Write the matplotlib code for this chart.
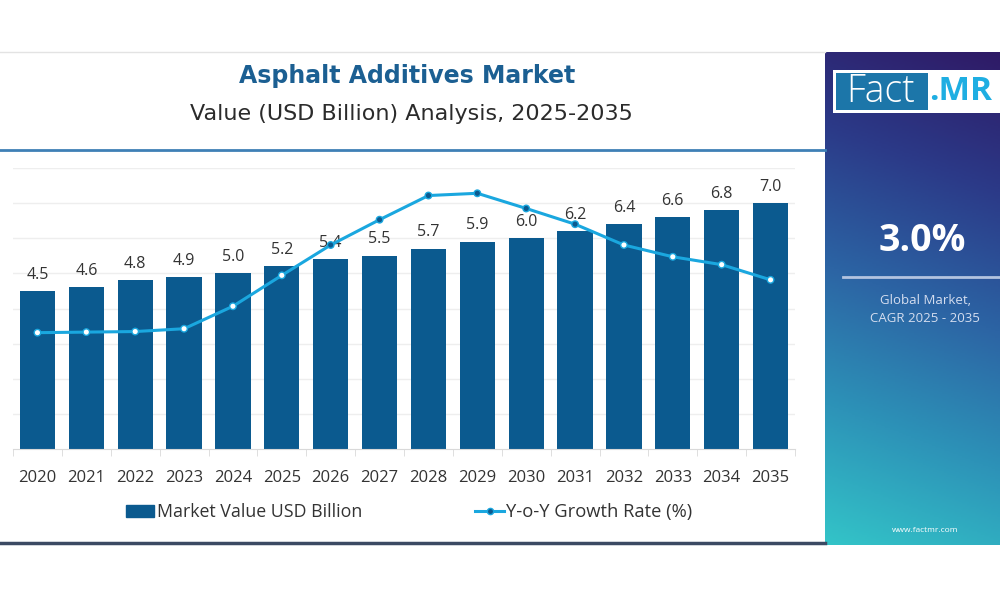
import numpy as np
import matplotlib
matplotlib.use("Agg")
import matplotlib.pyplot as plt
from matplotlib.lines import Line2D
from matplotlib.patches import Patch, Rectangle
from matplotlib.colors import LinearSegmentedColormap

# ---------------- data ----------------
years = ["2020", "2021", "2022", "2023", "2024", "2025", "2026", "2027",
         "2028", "2029", "2030", "2031", "2032", "2033", "2034", "2035"]
market_value = [4.5, 4.6, 4.8, 4.9, 5.0, 5.2, 5.4, 5.5,
                5.7, 5.9, 6.0, 6.2, 6.4, 6.6, 6.8, 7.0]
yoy_growth = [2.07, 2.08, 2.09, 2.14, 2.54, 3.09, 3.63, 4.08,
              4.51, 4.55, 4.28, 4.00, 3.63, 3.42, 3.28, 3.01]
title = "Asphalt Additives Market"
subtitle = "Value (USD Billion) Analysis, 2025-2035"
bar_label = "Market Value USD Billion"
line_label = "Y-o-Y Growth Rate (%)"
cagr_text = "3.0%"
cagr_caption = "Global Market,\nCAGR 2025 - 2035"
website = "www.factmr.com"

# ---------------- style ----------------
plt.rcParams['font.family'] = ['Open Sans', 'DejaVu Sans']
BAR_C = "#0b5a8f"
LINE_C = "#1aa7df"
TXT_C = "#333333"
W, H = 1000, 600

fig = plt.figure(figsize=(10, 6), dpi=100)
fig.patch.set_facecolor("white")

def fx(px):
    return px / W

def fy(py):
    return 1 - py / H

# ---------------- main chart ----------------
ax = fig.add_axes([fx(13), fy(449), fx(795) - fx(13), fy(168) - fy(449)])
x = np.arange(len(years))
ax.bar(x, market_value, width=0.72, color=BAR_C, zorder=2)
ax.set_xlim(-0.5, len(years) - 0.5)
ax.set_ylim(0, 8)
for xi, v in zip(x, market_value):
    ax.annotate(f"{v:.1f}", (xi, v), xytext=(0, 6), textcoords="offset points",
                ha="center", va="bottom", fontsize=11.5, color=TXT_C, zorder=3)

ax2 = ax.twinx()
ax2.set_ylim(0, 5)
ax2.axis("off")
ax2.plot(x, yoy_growth, color=LINE_C, linewidth=2.2, zorder=4)
face = ["white"] * 6 + [BAR_C] * 6 + ["white"] * 4
ax2.scatter(x, yoy_growth, s=22, facecolors=face, edgecolors=LINE_C,
            linewidths=1.0, zorder=5)

ax.set_yticks(np.arange(1, 9))
ax.yaxis.grid(True, color="#eeeeee", linewidth=1, zorder=0)
ax.tick_params(axis='y', left=False, right=False, labelleft=False, labelright=False)
for s in ["top", "right", "left"]:
    ax.spines[s].set_visible(False)
ax.spines["bottom"].set_color("#d9d9d9")
ax.set_xticks(x)
ax.set_xticklabels(years, fontsize=12, color=TXT_C)
ax.tick_params(axis='x', length=0, pad=15)
ax.set_xticks(np.arange(-0.5, len(years)), minor=True)
ax.tick_params(axis='x', which='minor', length=5, color="#d9d9d9")

# ---------------- legends ----------------
leg1 = fig.legend(handles=[Patch(facecolor=BAR_C, edgecolor=BAR_C)], labels=[bar_label],
                  loc="center left", bbox_to_anchor=(fx(126), fy(512)), frameon=False,
                  fontsize=12.8, handlelength=1.55, handleheight=0.7,
                  handletextpad=0.2, borderpad=0, borderaxespad=0)
for t in leg1.get_texts():
    t.set_color(TXT_C)
leg2 = fig.legend(handles=[Line2D([0], [0], color=LINE_C, linewidth=2.2, marker="o",
                                  markersize=4.5, markerfacecolor=BAR_C,
                                  markeredgecolor=LINE_C)],
                  labels=[line_label],
                  loc="center left", bbox_to_anchor=(fx(475), fy(512)), frameon=False,
                  fontsize=13.2, handlelength=1.6, handletextpad=0.1,
                  borderpad=0, borderaxespad=0)
for t in leg2.get_texts():
    t.set_color(TXT_C)

# ---------------- titles and frame lines ----------------
fig.text(fx(407), fy(76), title, ha="center", va="center", fontsize=17,
         fontweight="bold", color="#1b5f92", family=["DejaVu Sans"])
fig.text(fx(411), fy(114), subtitle, ha="center", va="center", fontsize=16,
         color="#2b2b2b", family=["DejaVu Sans"])
fig.add_artist(Line2D([0, fx(825)], [fy(52), fy(52)], color="#e3e3e3", linewidth=1))
fig.add_artist(Line2D([0, fx(825)], [fy(150), fy(150)], color="#3f80b6", linewidth=2))
fig.add_artist(Line2D([0, fx(825)], [fy(543), fy(543)], color="#3b4a63", linewidth=2.5))

# ---------------- right panel ----------------
pax = fig.add_axes([fx(825), fy(545), fx(1000) - fx(825), fy(52) - fy(545)])
pax.set_xlim(0, 1)
pax.set_ylim(0, 1)
pax.axis("off")
cmap = LinearSegmentedColormap.from_list(
    "panel", ["#2f1a66", "#2b3a88", "#2c64a4", "#2d93b8", "#33c4c8"])
gy, gx = np.mgrid[0:1:300j, 0:1:100j]
grad = np.clip(0.88 * gy + 0.12 * (1 - gx), 0, 1)
pax.imshow(grad, cmap=cmap, extent=[0, 1, 0, 1], origin="upper", aspect="auto",
           vmin=0, vmax=1, zorder=0)

def px_to_panel(xp, yp):
    return (xp - 825) / 175, (545 - yp) / 493

# logo
x0, y0 = px_to_panel(833, 113)
x1, y1 = px_to_panel(1002, 70)
pax.add_patch(Rectangle((x0, y0), x1 - x0, y1 - y0, facecolor="white",
                        edgecolor="none", zorder=2, clip_on=False))
bx0, by0 = px_to_panel(836, 110)
bx1, by1 = px_to_panel(928, 73)
pax.add_patch(Rectangle((bx0, by0), bx1 - bx0, by1 - by0, facecolor="#1c76a9",
                        edgecolor="none", zorder=3))
tx, ty = px_to_panel(881, 92)
pax.text(tx, ty, "Fact", ha="center", va="center", fontsize=27, color="white",
         fontweight="light", zorder=4)
tx, ty = px_to_panel(929, 92)
pax.text(tx, ty, ".MR", ha="left", va="center", fontsize=24, color="#1eaee2",
         fontweight="bold", zorder=4)

tx, ty = px_to_panel(922, 241)
pax.text(tx, ty, cagr_text, ha="center", va="center", fontsize=27,
         fontweight="bold", color="white")
lx0, ly = px_to_panel(843, 277)
pax.add_artist(Line2D([lx0, 1], [ly, ly], color="#b3c4e0", linewidth=2))
tx, ty = px_to_panel(925, 309)
pax.text(tx, ty, cagr_caption, ha="center", va="center", fontsize=9.5,
         color="#d4ddef", linespacing=1.5)
tx, ty = px_to_panel(925, 530)
pax.text(tx, ty, website, ha="center", va="center", fontsize=6, color="white")

fig.savefig("out.png", dpi=100, facecolor="white")
